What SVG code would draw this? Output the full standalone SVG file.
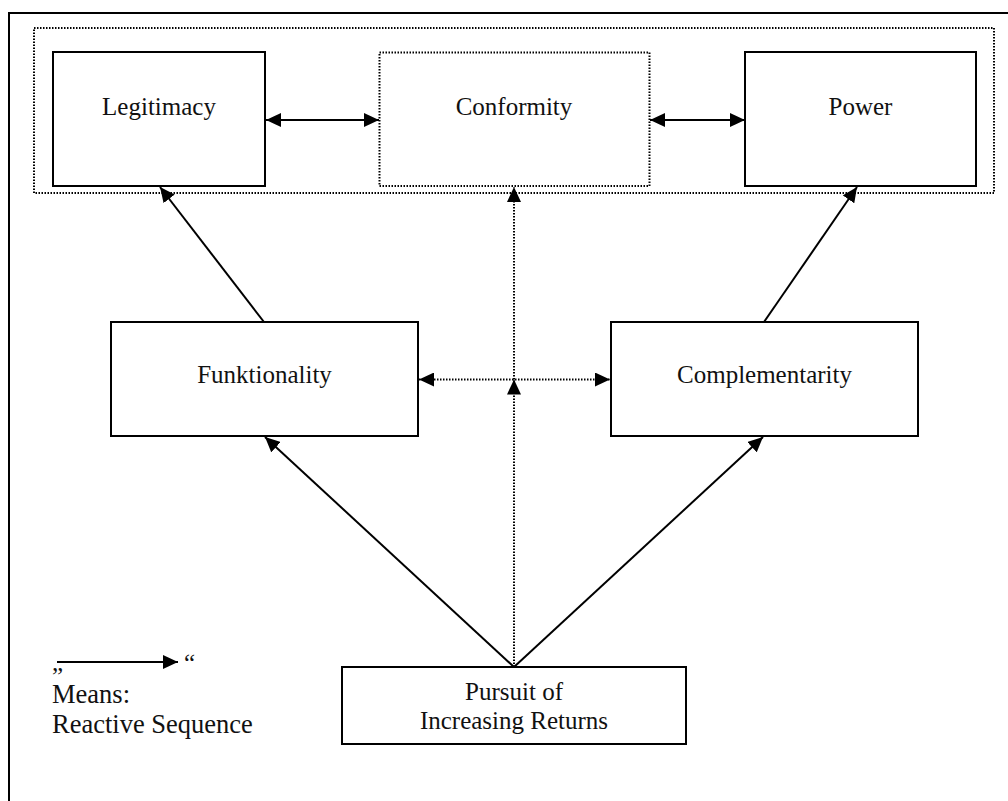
<svg xmlns="http://www.w3.org/2000/svg" width="1008" height="801" viewBox="0 0 1008 801">
  <style>
    .box { fill: #fff; stroke: #000; stroke-width: 2; }
    .dbox { fill: none; stroke: #000; stroke-width: 2; stroke-dasharray: 1.5 1.5; }
    .lbl { font-family: "Liberation Serif", "Times New Roman", serif; font-size: 25px; fill: #111; }
    .leg { font-size: 26.5px; }
    .c { text-anchor: middle; }
    .ln { stroke: #000; stroke-width: 2; fill: none; }
    .dl { stroke: #000; stroke-width: 2; fill: none; stroke-dasharray: 1.5 1.5; }
  </style>
  <defs>
    <marker id="ah" markerUnits="userSpaceOnUse" viewBox="0 0 15 14" markerWidth="15" markerHeight="14" refX="15" refY="7" orient="auto-start-reverse">
      <path d="M0,0 L15,7 L0,14 z" fill="#000"/>
    </marker>
  </defs>
  <rect width="1008" height="801" fill="#fff"/>
  <!-- outer frame (only top and left visible) -->
  <path class="ln" d="M9,801 V13 H1010"/>
  <!-- dotted group frame -->
  <rect id="group" class="dbox" x="34" y="28" width="960" height="165"/>

  <g id="legitimacy">
    <rect class="box" x="53" y="52" width="212" height="134"/>
    <text class="lbl c" x="159" y="115">Legitimacy</text>
  </g>
  <g id="conformity">
    <rect class="dbox" x="379.5" y="52.5" width="270" height="133.5"/>
    <text class="lbl c" x="514" y="115">Conformity</text>
  </g>
  <g id="power">
    <rect class="box" x="745" y="52" width="231" height="134"/>
    <text class="lbl c" x="860.5" y="115">Power</text>
  </g>
  <g id="funktionality">
    <rect class="box" x="111" y="322" width="307" height="114"/>
    <text class="lbl c" x="264.5" y="383">Funktionality</text>
  </g>
  <g id="complementarity">
    <rect class="box" x="611" y="322" width="307" height="114"/>
    <text class="lbl c" x="764.5" y="383">Complementarity</text>
  </g>
  <g id="pursuit">
    <rect class="box" x="342" y="667" width="344" height="77"/>
    <text class="lbl c" x="514" y="700">Pursuit of</text>
    <text class="lbl c" x="514" y="729">Increasing Returns</text>
  </g>

  <g id="connectors">
    <line class="ln" x1="266" y1="120" x2="379" y2="120" marker-start="url(#ah)" marker-end="url(#ah)"/>
    <line class="ln" x1="650" y1="120" x2="745" y2="120" marker-start="url(#ah)" marker-end="url(#ah)"/>
    <line class="ln" x1="264" y1="322" x2="160" y2="187" marker-end="url(#ah)"/>
    <line class="ln" x1="764" y1="322" x2="857" y2="187" marker-end="url(#ah)"/>
    <line class="ln" x1="514" y1="667" x2="265" y2="437" marker-end="url(#ah)"/>
    <line class="ln" x1="514" y1="667" x2="763" y2="437" marker-end="url(#ah)"/>
    <line class="dl" x1="419" y1="379.5" x2="610" y2="379.5" marker-start="url(#ah)" marker-end="url(#ah)"/>
    <line class="dl" x1="514" y1="667" x2="514" y2="379.5" marker-end="url(#ah)"/>
    <line class="dl" x1="514" y1="379.5" x2="514" y2="187" marker-end="url(#ah)"/>
  </g>

  <g id="legend">
    <line class="ln" x1="57" y1="662" x2="178" y2="662" marker-end="url(#ah)"/>
    <text class="lbl" x="52" y="671">„</text>
    <text class="lbl" x="184" y="671">“</text>
    <text class="lbl leg" x="52" y="703">Means:</text>
    <text class="lbl leg" x="52" y="733">Reactive Sequence</text>
  </g>
</svg>
